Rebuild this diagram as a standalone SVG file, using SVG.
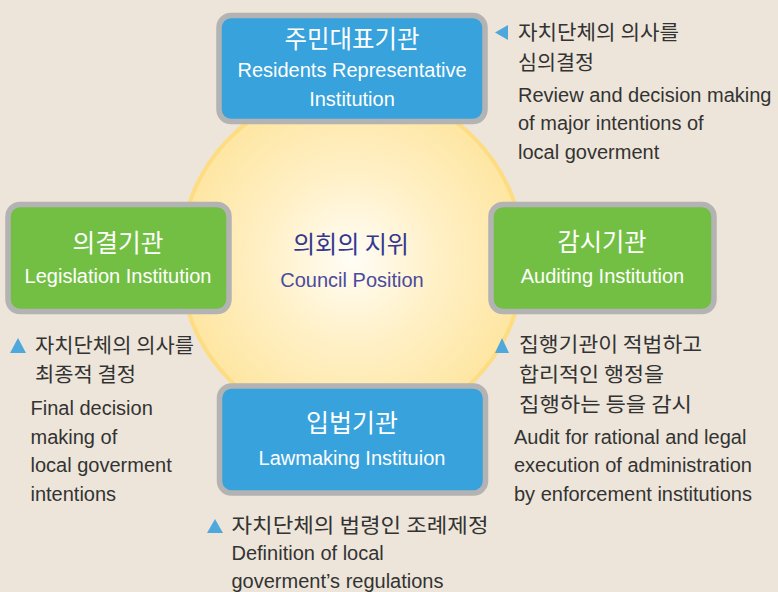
<svg xmlns="http://www.w3.org/2000/svg" width="778" height="592" viewBox="0 0 778 592">
<defs>
<radialGradient id="glow" cx="0.5" cy="0.5" r="0.5">
<stop offset="0" stop-color="#fffdf6"/>
<stop offset="0.5" stop-color="#fff0c6"/>
<stop offset="1" stop-color="#fee6a2"/>
</radialGradient>
</defs>
<style>
.box{stroke:#b3b3b3;stroke-width:5.5}
.blue{fill:#37a2db}
.green{fill:#72bf44}
.kt{font-family:"Noto Sans CJK KR",sans-serif;font-size:24.5px;fill:#ffffff;text-anchor:middle}
.et{font-family:"Liberation Sans",Arial,sans-serif;font-size:20px;fill:#ffffff;text-anchor:middle}
.ka{font-family:"Noto Sans CJK KR",sans-serif;font-size:20.5px;fill:#333333}
.ea{font-family:"Liberation Sans",Arial,sans-serif;font-size:20px;fill:#333333}
.tri{fill:#4ea8dc}
</style>
<rect width="778" height="592" fill="#ede5d9"/>
<g id="center">
<circle cx="352" cy="259" r="172" fill="url(#glow)" stroke="#fddc82" stroke-width="4"/>
<text x="351" y="253" font-family="'Noto Sans CJK KR',sans-serif" font-size="23.5" fill="#33378f" text-anchor="middle" textLength="116" lengthAdjust="spacingAndGlyphs">의회의 지위</text>
<text x="352" y="287" font-family="'Liberation Sans',Arial,sans-serif" font-size="20" fill="#4a4c9e" text-anchor="middle">Council Position</text>
</g>
<g id="node-residents">
<rect class="box blue" x="219" y="15.5" width="266" height="106" rx="12"/>
<text class="kt" x="352" y="48" textLength="135" lengthAdjust="spacingAndGlyphs">주민대표기관</text>
<text class="et" x="352" y="77">Residents Representative</text>
<text class="et" x="352" y="106">Institution</text>
</g>
<g id="node-legislation">
<rect class="box green" x="8" y="204.5" width="221" height="107" rx="12"/>
<text class="kt" x="118" y="251.5" textLength="91" lengthAdjust="spacingAndGlyphs">의결기관</text>
<text class="et" x="118" y="283">Legislation Institution</text>
</g>
<g id="node-auditing">
<rect class="box green" x="491" y="204.5" width="223" height="107" rx="12"/>
<text class="kt" x="602" y="251" textLength="89" lengthAdjust="spacingAndGlyphs">감시기관</text>
<text class="et" x="602.5" y="283">Auditing Institution</text>
</g>
<g id="node-lawmaking">
<rect class="box blue" x="219.5" y="386" width="266" height="107" rx="12"/>
<text class="kt" x="352" y="432" textLength="92" lengthAdjust="spacingAndGlyphs">입법기관</text>
<text class="et" x="352" y="465">Lawmaking Instituion</text>
</g>
<g id="note-top">
<polygon class="tri" points="495,32.5 508,25 508,40"/>
<text class="ka" x="518" y="39.5" textLength="161" lengthAdjust="spacingAndGlyphs">자치단체의 의사를</text>
<text class="ka" x="518" y="70" textLength="76" lengthAdjust="spacingAndGlyphs">심의결정</text>
<text class="ea" x="518" y="101.5">Review and decision making</text>
<text class="ea" x="518" y="130">of major intentions of</text>
<text class="ea" x="518" y="158.5">local goverment</text>
</g>
<g id="note-left">
<polygon class="tri" points="10,353 26,353 18,338"/>
<text class="ka" x="35" y="353" textLength="159" lengthAdjust="spacingAndGlyphs">자치단체의 의사를</text>
<text class="ka" x="35" y="382" textLength="101" lengthAdjust="spacingAndGlyphs">최종적 결정</text>
<text class="ea" x="30.5" y="415">Final decision</text>
<text class="ea" x="30.5" y="443.5">making of</text>
<text class="ea" x="30.5" y="472">local goverment</text>
<text class="ea" x="30.5" y="500.5">intentions</text>
</g>
<g id="note-right">
<polygon class="tri" points="495,353 509,353 502,338"/>
<text class="ka" x="519" y="352" textLength="183" lengthAdjust="spacingAndGlyphs">집행기관이 적법하고</text>
<text class="ka" x="519" y="382" textLength="145" lengthAdjust="spacingAndGlyphs">합리적인 행정을</text>
<text class="ka" x="519" y="412" textLength="173" lengthAdjust="spacingAndGlyphs">집행하는 등을 감시</text>
<text class="ea" x="514" y="443.5">Audit for rational and legal</text>
<text class="ea" x="514" y="472">execution of administration</text>
<text class="ea" x="514" y="500.5">by enforcement institutions</text>
</g>
<g id="note-bottom">
<polygon class="tri" points="207,533 223,533 215,519"/>
<text class="ka" x="231.5" y="533" textLength="257" lengthAdjust="spacingAndGlyphs">자치단체의 법령인 조례제정</text>
<text class="ea" x="231.5" y="560">Definition of local</text>
<text class="ea" x="231.5" y="587.5">goverment’s regulations</text>
</g>
<g id="connectors"/>
</svg>
